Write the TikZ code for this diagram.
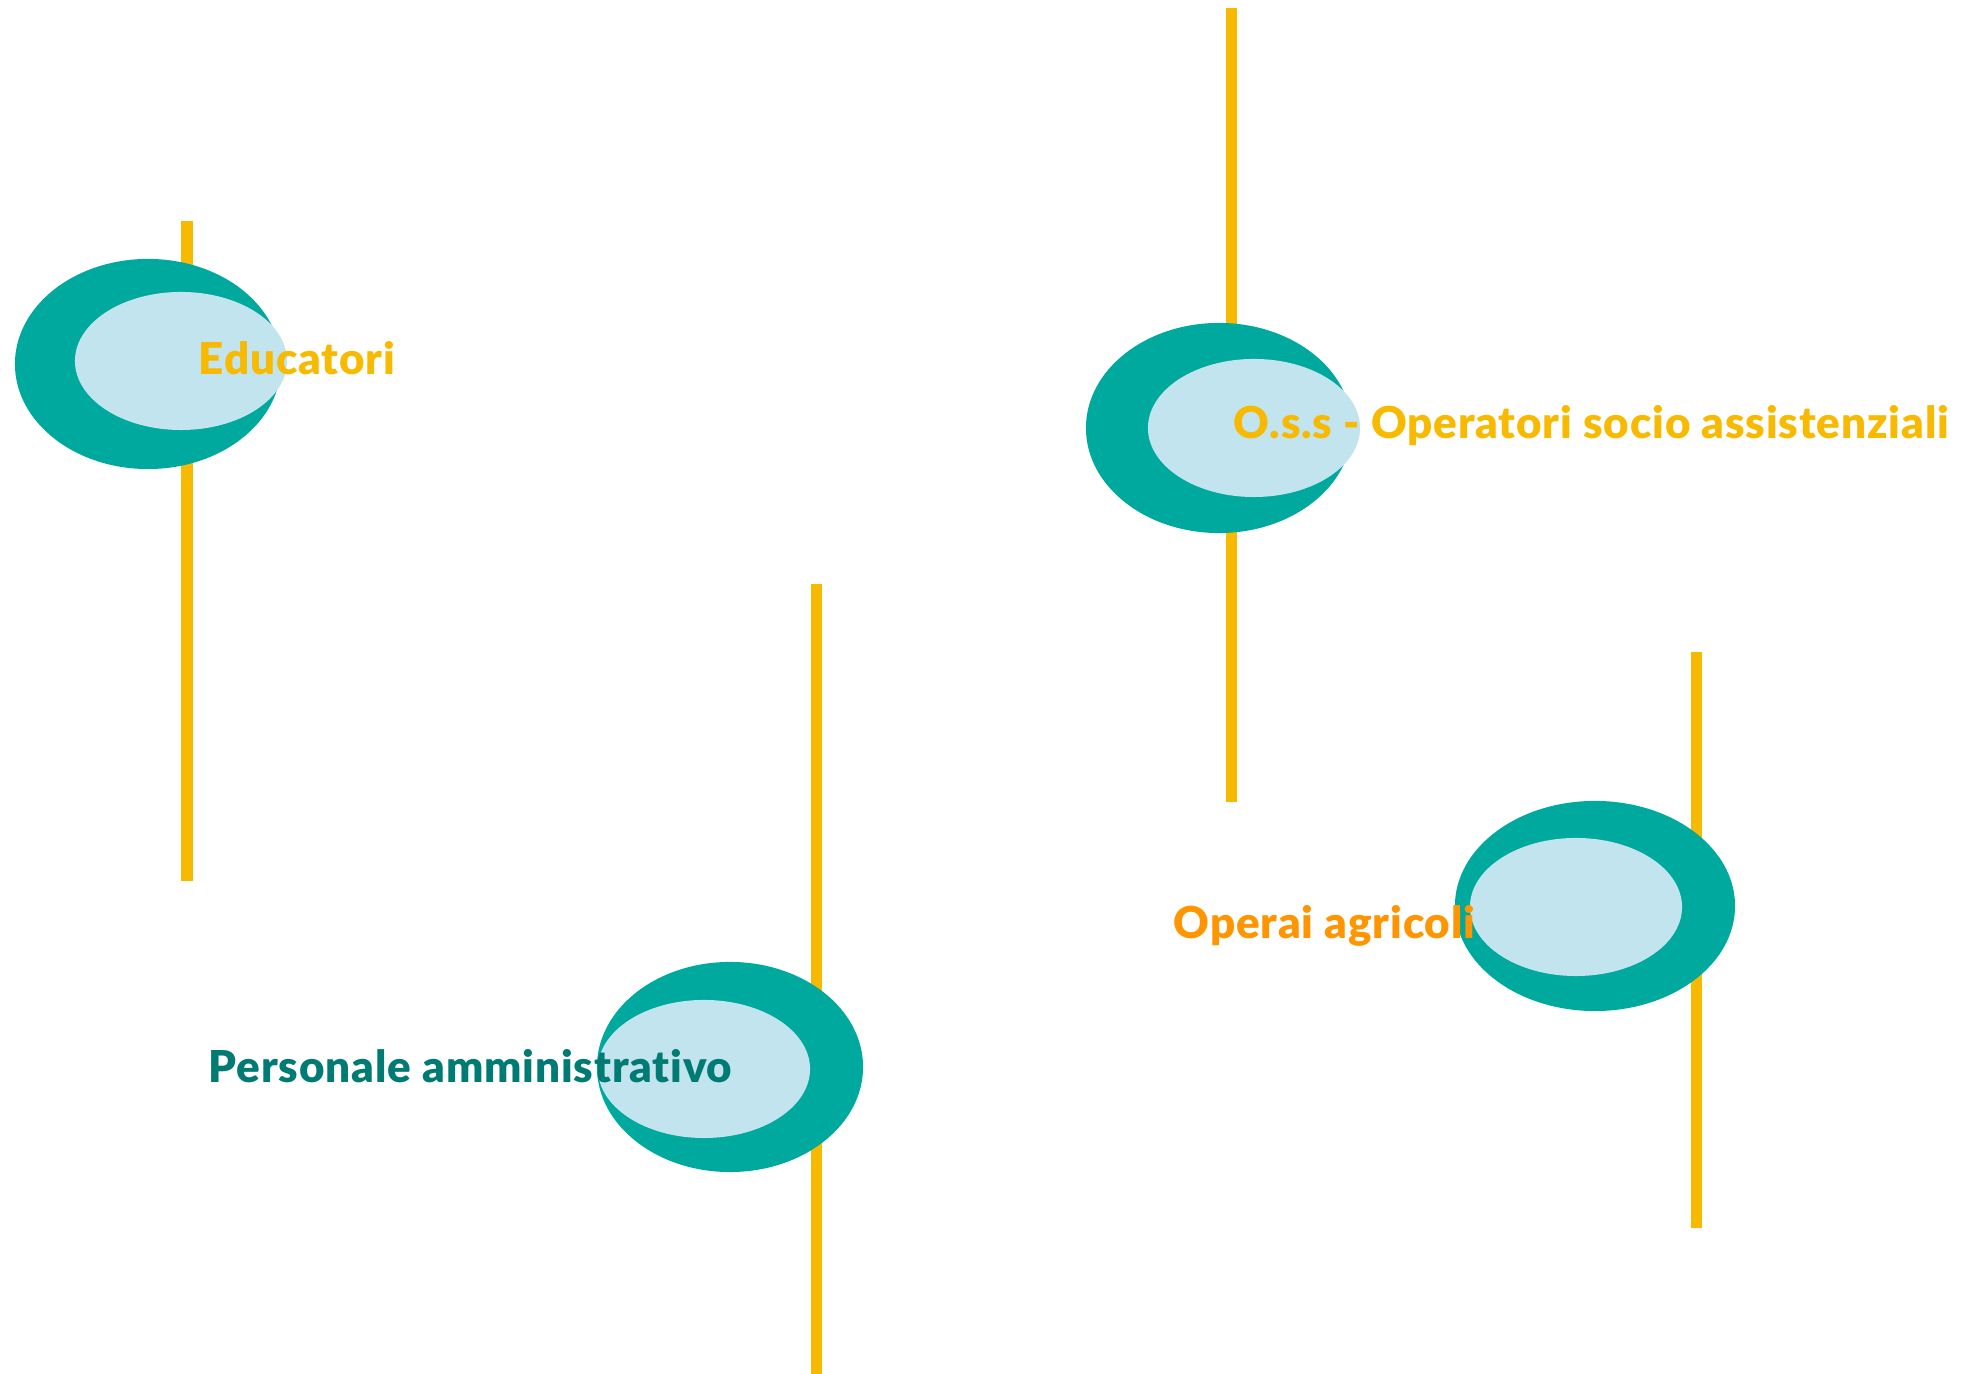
\documentclass[tikz,border=0pt]{standalone}
\usepackage{fontspec}
\setmainfont{Lato}[BoldFont={Lato Black}, LetterSpace=2, Ligatures=NoCommon]
\usetikzlibrary{shapes.geometric}
\definecolor{ringteal}{RGB}{0,169,157}
\definecolor{paleblue}{RGB}{194,228,239}
\definecolor{baryellow}{RGB}{248,186,0}
\definecolor{textorange}{RGB}{255,149,0}
\definecolor{textteal}{RGB}{0,123,115}

\begin{document}
\begin{tikzpicture}[x=0.01cm, y=-0.01cm,
    ringout/.style={ellipse, fill=ringteal, inner sep=0pt, minimum width=2.66cm, minimum height=2.1cm},
    ringin/.style={ellipse, fill=paleblue, inner sep=0pt, minimum width=2.12cm, minimum height=1.38cm},
    bar/.style={draw=baryellow, line width=0.11cm},
    roletext/.style={anchor=base west, inner sep=0pt, font=\fontsize{12.5}{14}\selectfont\bfseries}]
        \useasboundingbox (0,0) rectangle (1965,1374);

        \coordinate (eduTop) at (187,221);
        \coordinate (eduBot) at (187,881);
        \coordinate (ossTop) at (1231,8);
        \coordinate (ossBot) at (1231,802);
        \coordinate (admTop) at (816,584);
        \coordinate (admBot) at (816,1374);
        \coordinate (agrTop) at (1696,652);
        \coordinate (agrBot) at (1696,1228);

        \draw[bar] (eduTop) -- (eduBot);
        \draw[bar] (ossTop) -- (ossBot);
        \draw[bar] (admTop) -- (admBot);
        \draw[bar] (agrTop) -- (agrBot);

        \node[ringout] (eduOut) at (148,364) {};
        \node[ringin] (eduIn) at (181,361) {};
        \node[ringout] (ossOut) at (1219,428) {};
        \node[ringin] (ossIn) at (1254,428) {};
        \node[ringout] (admOut) at (730,1067) {};
        \node[ringin] (admIn) at (704,1069) {};
        \node[ringout, minimum width=2.8cm] (agrOut) at (1595,906) {};
        \node[ringin] (agrIn) at (1576,907) {};

        \node[roletext, text=baryellow] (edu) at (198,375) {Educatori};
        \node[roletext, text=baryellow] (oss) at (1233,439) {O.s.s - Operatori socio assistenziali};
        \node[roletext, text=textteal] (adm) at (208,1083) {Personale amministrativo};
        \node[roletext, text=textorange] (agr) at (1173,939) {Operai agricoli};
      \end{tikzpicture}
\end{document}
